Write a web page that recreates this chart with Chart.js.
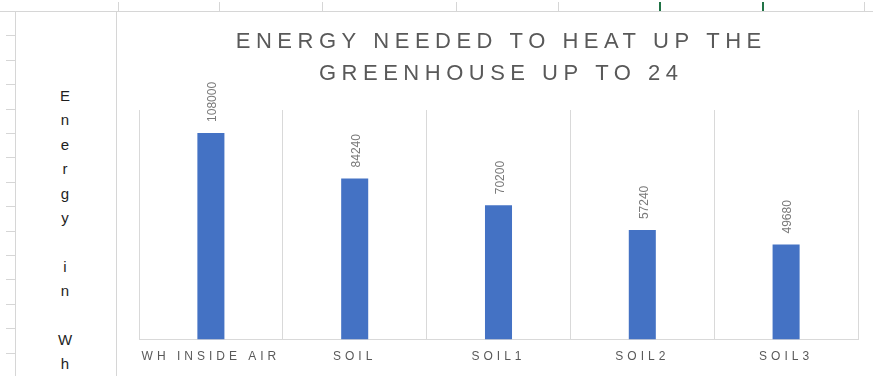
<!DOCTYPE html>
<html>
<head>
<meta charset="utf-8">
<title>Energy needed to heat up the greenhouse</title>
<script src="https://cdn.jsdelivr.net/npm/chart.js@4.4.1/dist/chart.umd.min.js"></script>
<style>
  html, body { margin: 0; padding: 0; background: #fff; }
  body { width: 873px; height: 376px; position: relative; overflow: hidden; font-family: "Liberation Sans", Arial, sans-serif; }
  .hline { position: absolute; left: 0; top: 11px; width: 873px; height: 1px; background: #d6d6d6; }
  .vline { position: absolute; top: 11px; bottom: 0; width: 1px; background: #d6d6d6; }
  .rows { position: absolute; left: 6px; top: 11px; width: 9px; bottom: 0;
          background: repeating-linear-gradient(to bottom, #d6d6d6 0 1px, transparent 1px 24.4px); }
  .coltick { position: absolute; top: 2px; height: 9px; width: 1px; background: #d6d6d6; }
  .coltick.sel { background: #217346; width: 2px; }
  .side { position: absolute; left: 40px; width: 50px; top: 84px; text-align: center;
          font-size: 15px; line-height: 24.4px; color: #1e1e1e; }
  #wrap { position: absolute; left: 116px; top: 11px; width: 757px; height: 365px; }
</style>
</head>
<body>
<div class="hline"></div>
<div class="vline" style="left:15px"></div>
<div class="vline" style="left:116px"></div>
<div class="rows"></div>
<div id="cols"></div>
<div class="side">E<br>n<br>e<br>r<br>g<br>y<br><br>i<br>n<br><br>W<br>h</div>
<div id="wrap"><canvas id="energyChart"></canvas></div>
<script>
// worksheet column edges along the header strip
const colEdges = [118, 219, 322, 456, 558, 659, 762, 864];
const selectedCols = [659, 762];
colEdges.forEach(function (x) {
    const t = document.createElement("div");
    t.className = "coltick" + (selectedCols.includes(x) ? " sel" : "");
    t.style.left = x + "px";
    document.getElementById("cols").appendChild(t);
});

const titleLines = ["ENERGY NEEDED TO HEAT UP THE", "GREENHOUSE UP TO 24"];
const categories = ["WH INSIDE AIR", "SOIL", "SOIL1", "SOIL2", "SOIL3"];
const energyWh = [108000, 84240, 70200, 57240, 49680];

// spaced-out title, Excel style
const titlePlugin = {
    id: "spacedTitle",
    afterDraw(chart) {
        const ctx = chart.ctx;
        const cx = (chart.chartArea.left + chart.chartArea.right) / 2;
        const gap = 5.5;
        ctx.save();
        ctx.font = "22px 'Liberation Sans', Arial, sans-serif";
        ctx.fillStyle = "#595959";
        ctx.letterSpacing = gap + "px";
        ctx.textAlign = "left";
        ctx.textBaseline = "alphabetic";
        titleLines.forEach(function (line, i) {
            const w = ctx.measureText(line).width - gap;
            ctx.fillText(line, cx - w / 2, 37 + i * 32);
        });
        ctx.restore();
    }
};

// letter spacing for the category labels
const spacingPlugin = {
    id: "tickSpacing",
    beforeDraw(chart) {
        chart.ctx.letterSpacing = "4px";
    }
};

// vertical value labels above each bar
const valueLabels = {
    id: "valueLabels",
    afterDatasetsDraw(chart) {
        const ctx = chart.ctx;
        const meta = chart.getDatasetMeta(0);
        ctx.save();
        ctx.letterSpacing = "0px";
        ctx.font = "12px 'Liberation Sans', Arial, sans-serif";
        ctx.fillStyle = "#7a7a7a";
        ctx.textAlign = "left";
        ctx.textBaseline = "middle";
        meta.data.forEach(function (bar, i) {
            ctx.save();
            ctx.translate(bar.x + 2, bar.y - 11);
            ctx.rotate(-Math.PI / 2);
            ctx.fillText(String(energyWh[i]), 0, 0);
            ctx.restore();
        });
        ctx.restore();
    }
};

const energyChart = new Chart(document.getElementById("energyChart"), {
    type: "bar",
    data: {
        labels: categories,
        datasets: [{
            data: energyWh,
            backgroundColor: "#4472C4",
            categoryPercentage: 1,
            barPercentage: 0.188
        }]
    },
    options: {
        responsive: true,
        maintainAspectRatio: false,
        animation: false,
        layout: { padding: { left: 23, right: 15, top: 99, bottom: 2 } },
        plugins: {
            legend: { display: false },
            title: { display: false },
            tooltip: { enabled: false }
        },
        scales: {
            x: {
                grid: { color: "#d9d9d9", offset: true, drawTicks: false },
                border: { color: "#d9d9d9" },
                ticks: {
                    color: "#595959",
                    padding: 10,
                    maxRotation: 0,
                    font: { size: 12, family: "'Liberation Sans', Arial, sans-serif" }
                }
            },
            y: { display: false, min: 0, max: 120000 }
        }
    },
    plugins: [spacingPlugin, valueLabels, titlePlugin]
});
</script>
</body>
</html>
